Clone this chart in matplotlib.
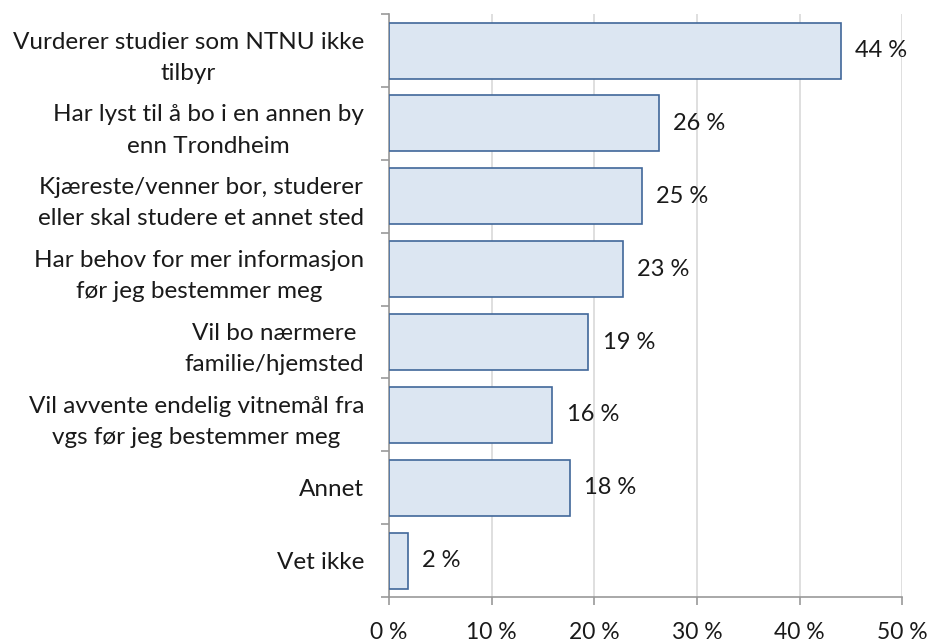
import numpy as np
import matplotlib.pyplot as plt

plt.rcParams['font.family'] = ['Lato', 'DejaVu Sans']

categories = [
    "Vurderer studier som NTNU ikke\ntilbyr",
    "Har lyst til å bo i en annen by\nenn Trondheim",
    "Kjæreste/venner bor, studerer\neller skal studere et annet sted",
    "Har behov for mer informasjon\nfør jeg bestemmer meg",
    "Vil bo nærmere\nfamilie/hjemsted",
    "Vil avvente endelig vitnemål fra\nvgs før jeg bestemmer meg",
    "Annet",
    "Vet ikke",
]
values = [44.0, 26.3, 24.6, 22.8, 19.4, 15.9, 17.6, 1.8]
xticks = [0, 10, 20, 30, 40, 50]

fig = plt.figure(figsize=(9.33, 6.44), dpi=100)
ax = fig.add_axes([0.417, 0.073, 0.55, 0.905])

y = np.arange(len(categories))
ax.barh(y, values, height=0.77, color='#dce6f2', edgecolor='#41679a', linewidth=1.2, zorder=3)
for yi, v in zip(y, values):
    ax.text(v + 1.4, yi, f"{v:.0f} %", va='center', ha='left', fontsize=17, color='#1a1a1a')

ax.set_ylim(len(categories) - 0.5, -0.5)
ax.set_xlim(0, 50)
ax.set_yticks(y)
ax.set_yticklabels(categories, fontsize=17.5, color='#1a1a1a', ha='right',
                   multialignment='center', linespacing=1.6)
ax.tick_params(axis='y', length=0, pad=18)
ax.set_yticks(np.arange(len(categories) + 1) - 0.5, minor=True)
ax.tick_params(axis='y', which='minor', length=6, color='#999999', width=1.2)

ax.set_xticks(xticks)
ax.set_xticklabels([f"{t} %" for t in xticks], fontsize=16.5, color='#1a1a1a')
ax.tick_params(axis='x', length=6, color='#999999', width=1.2, pad=12)

ax.grid(axis='x', color='#d9d9d9', linewidth=1.2, zorder=0)
for s in ['top', 'right']:
    ax.spines[s].set_visible(False)
for s in ['left', 'bottom']:
    ax.spines[s].set_color('#999999')
    ax.spines[s].set_linewidth(1.2)

fig.savefig('out.png', dpi=100)
